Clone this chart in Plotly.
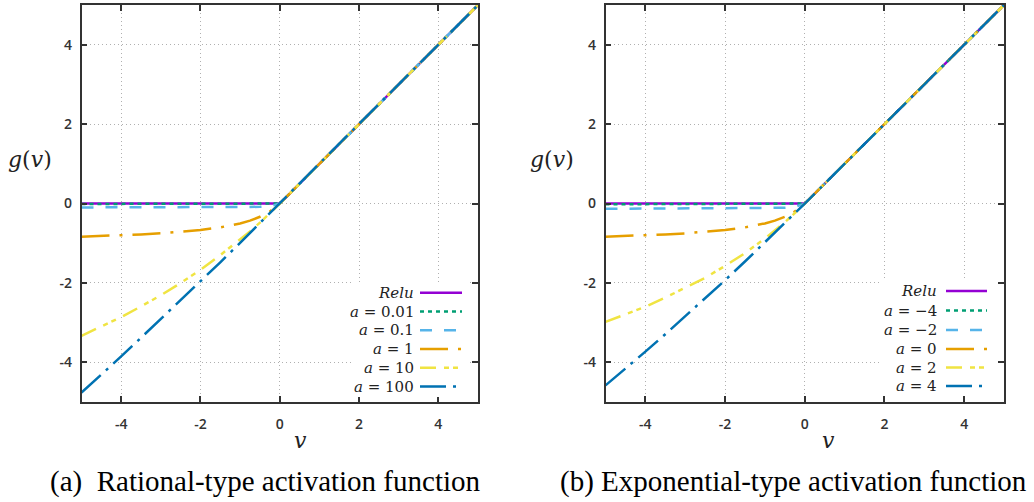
import plotly.graph_objects as go

# ---------------- data ----------------
v = [-5, -4.5, -4, -3.5, -3, -2.5, -2, -1.5, -1, -0.75, -0.5, -0.25, 0, 5]

# (a) rational-type
rat_labels = ["<i>Relu</i>", "<i>a</i> = 0.01", "<i>a</i> = 0.1", "<i>a</i> = 1", "<i>a</i> = 10", "<i>a</i> = 100"]
rat_relu = [0, 0, 0, 0, 0, 0, 0, 0, 0, 0, 0, 0, 0, 5]
rat_a001 = [-0.010, -0.010, -0.010, -0.010, -0.010, -0.010, -0.010, -0.010, -0.010, -0.010, -0.010, -0.010, 0, 5]
rat_a01 = [-0.098, -0.098, -0.098, -0.097, -0.097, -0.096, -0.095, -0.094, -0.091, -0.088, -0.083, -0.071, 0, 5]
rat_a1 = [-0.833, -0.818, -0.800, -0.778, -0.750, -0.714, -0.667, -0.600, -0.500, -0.429, -0.333, -0.200, 0, 5]
rat_a10 = [-3.33, -3.10, -2.86, -2.59, -2.31, -2.00, -1.67, -1.30, -0.91, -0.70, -0.48, -0.24, 0, 5]
rat_a100 = [-4.76, -4.31, -3.85, -3.38, -2.91, -2.44, -1.96, -1.48, -0.99, -0.74, -0.50, -0.25, 0, 5]

# (b) exponential-type
exp_labels = ["<i>Relu</i>", "<i>a</i> = \u22124", "<i>a</i> = \u22122", "<i>a</i> = 0", "<i>a</i> = 2", "<i>a</i> = 4"]
exp_relu = [0, 0, 0, 0, 0, 0, 0, 0, 0, 0, 0, 0, 0, 5]
exp_am4 = [-0.018, -0.018, -0.018, -0.018, -0.018, -0.018, -0.018, -0.018, -0.018, -0.018, -0.018, -0.017, 0, 5]
exp_am2 = [-0.132, -0.131, -0.131, -0.130, -0.129, -0.128, -0.127, -0.124, -0.119, -0.115, -0.107, -0.088, 0, 5]
exp_a0 = [-0.833, -0.818, -0.800, -0.778, -0.750, -0.714, -0.667, -0.600, -0.500, -0.429, -0.333, -0.200, 0, 5]
exp_a2 = [-2.98, -2.80, -2.60, -2.37, -2.13, -1.87, -1.57, -1.25, -0.88, -0.68, -0.47, -0.24, 0, 5]
exp_a4 = [-4.58, -4.16, -3.73, -3.29, -2.84, -2.39, -1.93, -1.46, -0.98, -0.74, -0.50, -0.25, 0, 5]

tick_vals = [-4, -2, 0, 2, 4]
tick_text = ["-4", "-2", "0", "2", "4"]
captions = ["(a)\u00a0\u00a0Rational-type activation function", "(b) Exponential-type activation function"]

# ---------------- styles ----------------
colors = ["#9400d3", "#009e73", "#56b4e9", "#e69f00", "#f0e442", "#0072b2"]
dashes = ["solid", "4px,4px", "12px,12px", "28px,10px,3px,10px", "16px,8px,5px,4px,5px,8px", "26px,7px,3px,7px"]

W, H = 1034, 502
fig = go.Figure()

series = [
    ([rat_relu, rat_a001, rat_a01, rat_a1, rat_a10, rat_a100], rat_labels, "x", "y"),
    ([exp_relu, exp_am4, exp_am2, exp_a0, exp_a2, exp_a4], exp_labels, "x2", "y2"),
]
for ys_list, labels, xa, ya in series:
    for ys, lab, c, d in zip(ys_list, labels, colors, dashes):
        fig.add_trace(go.Scatter(x=v, y=ys, mode="lines", name=lab, xaxis=xa, yaxis=ya,
                                 line=dict(color=c, width=2.5, dash=d), showlegend=False))

axis_common = dict(range=[-5, 5], tickvals=tick_vals, ticktext=tick_text,
                   showgrid=True, gridcolor="#b0b0b0", griddash="1px,3px", gridwidth=1,
                   zeroline=False, showline=True, linecolor="#333333", linewidth=1.5,
                   mirror="ticks", ticks="inside", ticklen=6, tickcolor="#333333", tickwidth=1.5,
                   tickfont=dict(family="Open Sans", size=14, color="#333333", weight=600),
                   fixedrange=True)

ydom = [0.199, 0.99]
fig.update_layout(
    width=W, height=H, margin=dict(l=0, r=0, t=0, b=0),
    paper_bgcolor="white", plot_bgcolor="white",
    xaxis=dict(domain=[81.5 / W, 478 / W], anchor="y", ticklabelstandoff=8, **axis_common),
    yaxis=dict(domain=ydom, anchor="x", ticklabelstandoff=5, **axis_common),
    xaxis2=dict(domain=[605.5 / W, 1004 / W], anchor="y2", ticklabelstandoff=8, **axis_common),
    yaxis2=dict(domain=ydom, anchor="x2", ticklabelstandoff=5, **axis_common),
)

annotations = []
shapes = []
serif = "DejaVu Serif"

def px(x):
    return x / W

def py(y):
    return 1 - y / H

# axis titles and captions
for gx, vx, cap_x, cap in [(30, 300, 265, captions[0]), (552, 828, 793, captions[1])]:
    annotations.append(dict(x=px(gx), y=py(160), xref="paper", yref="paper", showarrow=False,
                            xanchor="center", yanchor="middle",
                            text="<i>g</i>(<i>v</i>)", font=dict(family=serif, size=22, color="#222")))
    annotations.append(dict(x=px(vx), y=py(440), xref="paper", yref="paper", showarrow=False,
                            xanchor="center", yanchor="middle",
                            text="<i>v</i>", font=dict(family=serif, size=22, color="#222")))
    annotations.append(dict(x=px(cap_x), y=py(481), xref="paper", yref="paper", showarrow=False,
                            xanchor="center", yanchor="middle",
                            text=cap, font=dict(family="Liberation Serif", size=29, color="black")))

# manual legends (text then sample on the right)
legend_rows_a = [292.7, 311.5, 330.2, 349.0, 367.7, 386.5]
legend_rows_b = [291.0, 310.5, 330.0, 349.0, 367.5, 386.0]
for labels, rows, text_right, s0, s1, box in [
        (rat_labels, legend_rows_a, 416, 420, 462, (352, 282, 470, 397)),
        (exp_labels, legend_rows_b, 939, 946, 987, (880, 281, 996, 396))]:
    shapes.append(dict(type="rect", xref="paper", yref="paper", x0=px(box[0]), x1=px(box[2]),
                       y0=py(box[3]), y1=py(box[1]), fillcolor="white", line=dict(width=0), layer="above"))
    for lab, row, c, d in zip(labels, rows, colors, dashes):
        annotations.append(dict(x=px(text_right), y=py(row), xref="paper", yref="paper", showarrow=False,
                                xanchor="right", yanchor="middle", text=lab,
                                font=dict(family=serif, size=15, color="#222")))
        shapes.append(dict(type="line", xref="paper", yref="paper", x0=px(s0), x1=px(s1),
                           y0=py(row), y1=py(row), line=dict(color=c, width=2.5, dash=d), layer="above"))

fig.update_layout(annotations=annotations, shapes=shapes)
fig.write_html("out.html")
